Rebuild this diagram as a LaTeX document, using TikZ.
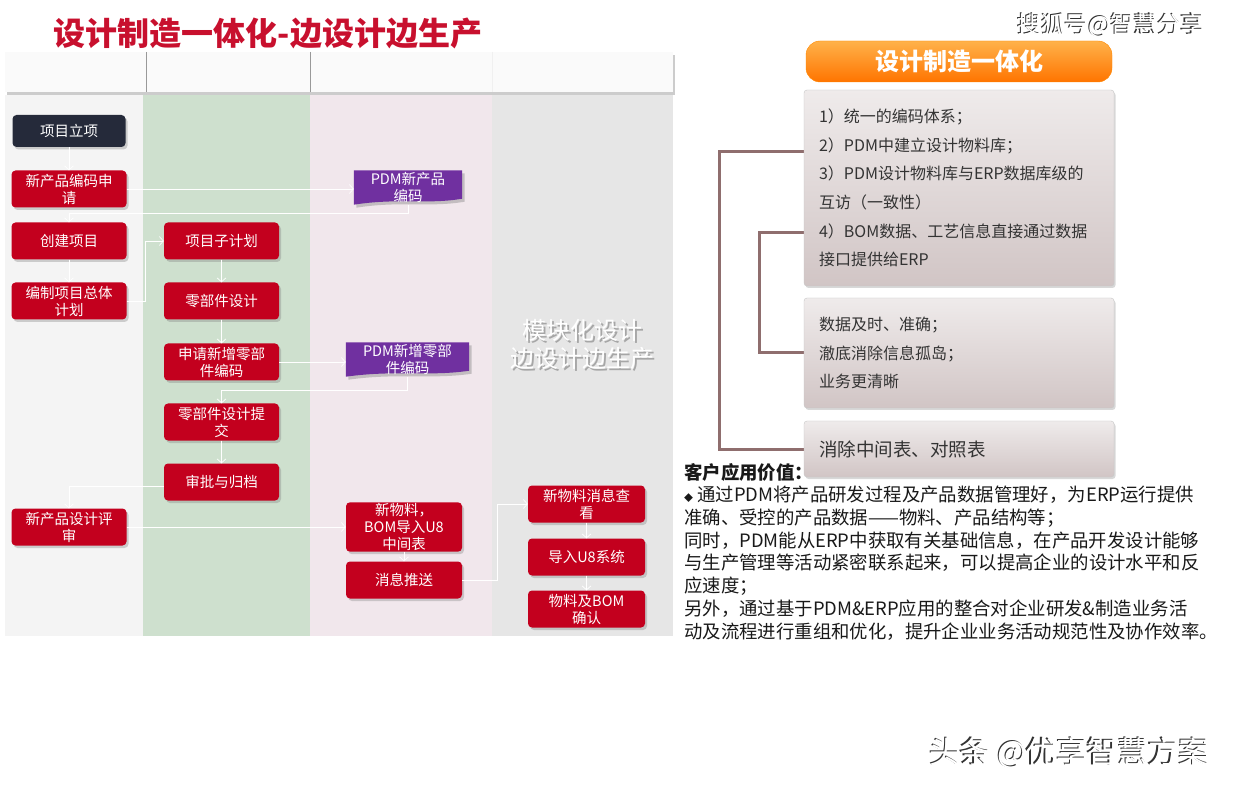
\documentclass[tikz,border=0pt]{standalone}
\usepackage{fontspec}
\setmainfont{Noto Sans CJK SC}
\usetikzlibrary{arrows.meta, shadows}
\pgfdeclarelayer{bg}
\pgfsetlayers{bg,main}
\definecolor{boxred}{HTML}{C3001E}
\definecolor{boxnavy}{HTML}{252A3A}
\definecolor{pdmpurple}{HTML}{7030A0}
\definecolor{titlered}{HTML}{C8102E}
\definecolor{laneone}{HTML}{F4F4F4}
\definecolor{lanetwo}{HTML}{CEE0CE}
\definecolor{lanethree}{HTML}{F1E7EC}
\definecolor{lanefour}{HTML}{E6E6E6}
\definecolor{headfill}{HTML}{FAFAFA}
\definecolor{bracketbrown}{HTML}{8F6E6E}
\definecolor{boxtop}{HTML}{EFEBEB}
\definecolor{boxbottom}{HTML}{D1C5C5}
\definecolor{pilltop}{HTML}{FFB24A}
\definecolor{pillmid}{HTML}{FF8A10}
\definecolor{pillbottom}{HTML}{FF7400}
\definecolor{textgray}{HTML}{333333}

\begin{document}
\begin{tikzpicture}[x=1pt, y=-1pt, >={Straight Barb[length=4pt, width=9pt]},
  flowbox/.style={fill=boxred, text=white, rounded corners=4pt, minimum width=115pt, minimum height=37pt, inner sep=1pt, align=center, font=\fontsize{14.5}{17}\selectfont, drop shadow={opacity=0.35, shadow xshift=2pt, shadow yshift=-2.5pt}},
  pdmbox/.style={text=white, minimum height=35pt, inner sep=0pt, align=center, font=\fontsize{14.5}{17}\selectfont},
  pdmwave/.style={fill=pdmpurple, drop shadow={opacity=0.4, shadow xshift=2.5pt, shadow yshift=-3pt}},
  flowline/.style={->, draw=white, line width=0.7pt},
  greybox/.style={top color=boxtop, bottom color=boxbottom, draw=black!22, rounded corners=3pt, minimum width=310pt, text width=280pt, align=left, text=textgray, drop shadow={opacity=0.3, shadow xshift=1.5pt, shadow yshift=-2pt}},
  orangepill/.style={top color=pilltop, middle color=pillmid, bottom color=pillbottom, draw=pillbottom!85!yellow, rounded corners=14pt, minimum width=306pt, minimum height=41pt, text=white, font=\bfseries\fontsize{24}{28}\selectfont},
  bracket/.style={draw=bracketbrown, line width=3pt},
  wmtext/.style={text=white, align=center},
  wmshade/.style={text=black!80, align=center}]
\useasboundingbox (0,0) rectangle (1237,791);
\begin{pgfonlayer}{bg}
\fill[white] (0,0) rectangle (1237,791);
\fill[laneone] (5,95) rectangle (143,636);
\fill[lanetwo] (143,95) rectangle (310,636);
\fill[lanethree] (310,95) rectangle (492,636);
\fill[lanefour] (492,95) rectangle (673,636);
\end{pgfonlayer}
\fill[headfill, drop shadow={opacity=0.4, shadow xshift=2pt, shadow yshift=-3pt}] (5,52) rectangle (673,92);
\draw[black!40] (146,52) -- (146,92);
\draw[black!40] (310,52) -- (310,92);
\draw[black!6] (492,52) -- (492,92);

\node (title) [text=titlered, font=\bfseries\fontsize{32}{36}\selectfont] at (268,33) {设计制造一体化-边设计边生产};

\node (lanemarkshade) [wmshade, text=black!35, font=\fontsize{24}{28}\selectfont] at (584,346) {模块化设计\\边设计边生产};
\node (lanemark) [wmtext, font=\fontsize{24}{28}\selectfont] at (582,344) {模块化设计\\边设计边生产};

% lane 1
\node (start) [flowbox, fill=boxnavy, minimum width=113pt, minimum height=32pt] at (69,131) {项目立项};
\node (codeapp) [flowbox] at (69,189) {新产品编码申\\请};
\node (createproj) [flowbox] at (69,241) {创建项目};
\node (masterplan) [flowbox] at (69,301) {编制项目总体\\计划};
\node (review) [flowbox] at (69,527) {新产品设计评\\审};
% lane 2
\node (subplan) [flowbox] at (221.5,241) {项目子计划};
\node (partdesign) [flowbox] at (221.5,301) {零部件设计};
\node (partcode) [flowbox] at (221.5,362) {申请新增零部\\件编码};
\node (submit) [flowbox] at (221.5,422) {零部件设计提\\交};
\node (archive) [flowbox] at (221.5,482) {审批与归档};
% lane 3
\node (pdmcode) [pdmbox, minimum width=108pt] at (408,187) {PDM新产品\\编码};
\node (pdmpart) [pdmbox, minimum width=123pt] at (407.5,359) {PDM新增零部\\件编码};
\begin{pgfonlayer}{bg}
\fill[pdmwave] ([yshift=-1pt]pdmcode.north west) -- ([yshift=-1pt]pdmcode.north east) -- ([yshift=6pt]pdmcode.south east) .. controls +(-35pt,-6pt) and +(45pt,7pt) .. (pdmcode.south west) -- cycle;
\fill[pdmwave] ([yshift=-1pt]pdmpart.north west) -- ([yshift=-1pt]pdmpart.north east) -- ([yshift=6pt]pdmpart.south east) .. controls +(-40pt,-6pt) and +(50pt,7pt) .. (pdmpart.south west) -- cycle;
\end{pgfonlayer}
\node (bomimport) [flowbox, minimum width=116pt] at (404,527) {新物料，\\BOM导入U8\\中间表};
\node (push) [flowbox, minimum width=116pt] at (404,580) {消息推送};
% lane 4
\node (viewmsg) [flowbox, minimum width=117pt] at (586.5,504) {新物料消息查\\看};
\node (importu8) [flowbox, minimum width=117pt] at (586.5,557) {导入U8系统};
\node (confirm) [flowbox, minimum width=117pt] at (586.5,609) {物料及BOM\\确认};

\draw[flowline] (start) -- (codeapp);
\draw[flowline] (codeapp.east) -- (codeapp.east -| pdmcode.west);
\draw[flowline] (pdmcode.south) -- ++(0,9) -| (createproj.north);
\draw[flowline] (createproj) -- (masterplan);
\draw[flowline] (masterplan.east) -- ++(19,0) |- (subplan.west);
\draw[flowline] (subplan) -- (partdesign);
\draw[flowline] (partdesign) -- (partcode);
\draw[flowline] (partcode.east) -- (partcode.east -| pdmpart.west);
\draw[flowline] (pdmpart.south) -- ++(0,14) -| (submit.north);
\draw[flowline] (submit) -- (archive);
\draw[flowline] ([yshift=-4pt]archive.west) -| (review.north);
\draw[flowline] (review.east) -- (review.east -| bomimport.west);
\draw[flowline] (bomimport) -- (push);
\draw[flowline] (push.east) -- ++(35,0) |- (viewmsg.west);
\draw[flowline] (viewmsg) -- (importu8);
\draw[flowline] (importu8) -- (confirm);

% right side
\node (unify) [orangepill] at (959,61.5) {设计制造一体化};
\node (box1) [greybox, minimum height=196pt, font=\fontsize{16}{28.6}\selectfont] at (959,188) {1）统一的编码体系；\\2）PDM中建立设计物料库；\\3）PDM设计物料库与ERP数据库级的\\互访（一致性）\\4）BOM数据、工艺信息直接通过数据\\接口提供给ERP};
\node (box2) [greybox, minimum height=110pt, font=\fontsize{16}{28.6}\selectfont] at (959,353) {数据及时、准确；\\澈底消除信息孤岛；\\业务更清晰};
\node (box3) [greybox, minimum height=56pt, font=\fontsize{18.5}{22}\selectfont] at (959,449) {消除中间表、对照表};
\begin{pgfonlayer}{bg}
\draw[bracket] ([yshift=36pt]box1.west) -- ++(-84,0) |- (box3.west);
\draw[bracket] ([yshift=-45pt]box1.west) -- ++(-44,0) |- (box2.west);
\end{pgfonlayer}

\node (value) [anchor=north west, align=left, inner sep=0pt, text=black!90, font=\fontsize{18.4}{22.7}\selectfont] at (684,463) {\textbf{客户应用价值：}\\{\fontsize{9}{9}\selectfont ◆} 通过PDM将产品研发过程及产品数据管理好，为ERP运行提供\\准确、受控的产品数据——物料、产品结构等；\\同时，PDM能从ERP中获取有关基础信息，在产品开发设计能够\\与生产管理等活动紧密联系起来，可以提高企业的设计水平和反\\应速度；\\另外，通过基于PDM\&ERP应用的整合对企业研发\&制造业务活\\动及流程进行重组和优化，提升企业业务活动规范性及协作效率。};

% watermarks
\node (sohushade) [wmshade, font=\fontsize{23.5}{26}\selectfont] at (1110,25) {搜狐号@智慧分享};
\node (sohu) [wmtext, font=\fontsize{23.5}{26}\selectfont] at (1111.2,25.8) {搜狐号@智慧分享};
\node (toutiaoshade) [wmshade, font=\fontsize{30.5}{34}\selectfont] at (1068,752) {头条 @优享智慧方案};
\node (toutiao) [wmtext, font=\fontsize{30.5}{34}\selectfont] at (1069.4,753) {头条 @优享智慧方案};
\end{tikzpicture}
\end{document}
